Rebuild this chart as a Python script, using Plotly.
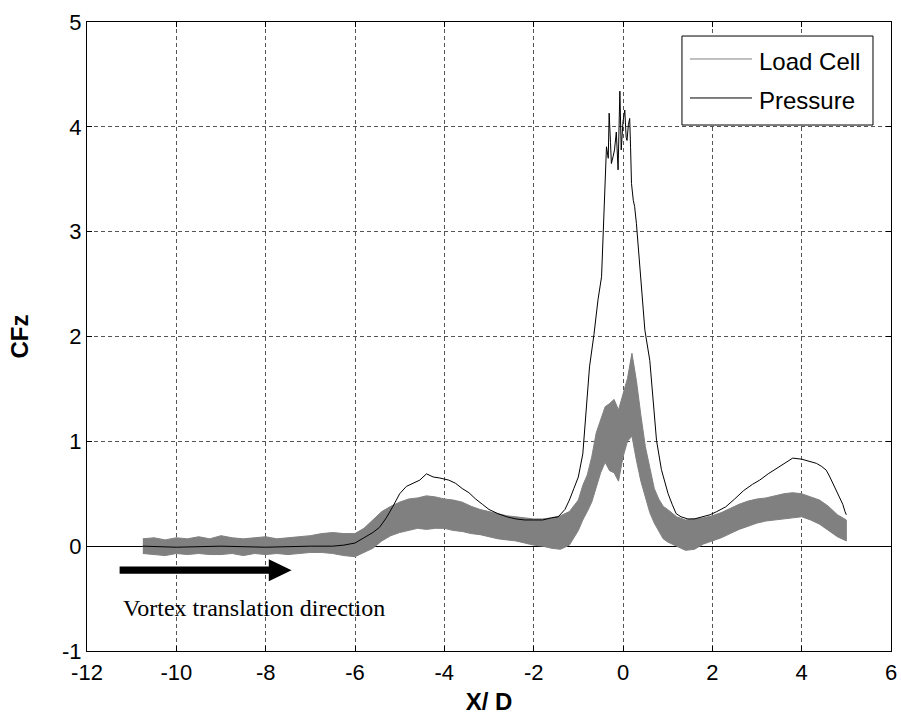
import plotly.graph_objects as go

# ---------------- data ----------------
x_ticks = [-12, -10, -8, -6, -4, -2, 0, 2, 4, 6]
x_ticklabels = ["-12", "-10", "-8", "-6", "-4", "-2", "0", "2", "4", "6"]
y_ticks = [-1, 0, 1, 2, 3, 4, 5]
y_ticklabels = ["-1", "0", "1", "2", "3", "4", "5"]
series_names = ["Load Cell", "Pressure"]

# Load cell: noisy signal, given as upper / lower envelope of the band
lc_x = [-10.75, -10.5, -10.25, -10.0, -9.75, -9.5, -9.25, -9.0, -8.75, -8.5,
        -8.25, -8.0, -7.75, -7.5, -7.25, -7.0, -6.75, -6.5, -6.25, -6.0,
        -5.8, -5.6, -5.4, -5.2, -5.0, -4.8, -4.6, -4.4, -4.2, -4.0,
        -3.8, -3.6, -3.4, -3.2, -3.0, -2.8, -2.6, -2.4, -2.2, -2.0,
        -1.8, -1.6, -1.4, -1.2, -1.0, -0.9, -0.8, -0.7, -0.6, -0.5,
        -0.4, -0.3, -0.2, -0.1, 0.0, 0.1, 0.2, 0.3, 0.4, 0.5,
        0.6, 0.7, 0.8, 0.9, 1.0, 1.2, 1.4, 1.6, 1.8, 2.0,
        2.2, 2.4, 2.6, 2.8, 3.0, 3.2, 3.4, 3.6, 3.8, 4.0,
        4.2, 4.4, 4.6, 4.8, 5.0]
lc_upper = [0.07, 0.08, 0.06, 0.08, 0.07, 0.09, 0.07, 0.10, 0.08, 0.07,
            0.08, 0.09, 0.07, 0.08, 0.09, 0.10, 0.12, 0.13, 0.12, 0.12,
            0.17, 0.25, 0.33, 0.38, 0.42, 0.45, 0.46, 0.48, 0.47, 0.45,
            0.44, 0.42, 0.38, 0.35, 0.33, 0.31, 0.29, 0.28, 0.27, 0.26,
            0.26, 0.27, 0.29, 0.33, 0.44, 0.58, 0.68, 0.85, 1.08, 1.20,
            1.33, 1.36, 1.40, 1.30, 1.45, 1.60, 1.84, 1.58, 1.25, 0.95,
            0.75, 0.55, 0.45, 0.38, 0.35, 0.28, 0.25, 0.26, 0.27, 0.29,
            0.32, 0.36, 0.40, 0.43, 0.45, 0.46, 0.48, 0.50, 0.51, 0.50,
            0.47, 0.44, 0.38, 0.30, 0.25]
lc_lower = [-0.07, -0.08, -0.09, -0.07, -0.08, -0.07, -0.08, -0.08, -0.07, -0.09,
            -0.07, -0.08, -0.07, -0.08, -0.07, -0.06, -0.06, -0.07, -0.09, -0.10,
            -0.06, -0.02, 0.05, 0.10, 0.13, 0.15, 0.17, 0.16, 0.17, 0.17,
            0.15, 0.14, 0.12, 0.11, 0.09, 0.07, 0.06, 0.05, 0.03, 0.01,
            0.00, -0.02, -0.03, 0.01, 0.15, 0.25, 0.33, 0.42, 0.56, 0.70,
            0.80, 0.72, 0.70, 0.62, 0.85, 1.00, 1.05, 0.82, 0.62, 0.48,
            0.32, 0.22, 0.15, 0.07, 0.04, 0.00, -0.04, -0.03, 0.02, 0.05,
            0.08, 0.12, 0.16, 0.19, 0.22, 0.24, 0.25, 0.26, 0.27, 0.28,
            0.25, 0.21, 0.15, 0.09, 0.05]

# Pressure: single line
p_x = [-10.75, -10.0, -9.0, -8.0, -7.0, -6.5, -6.25, -6.0, -5.8, -5.6,
       -5.45, -5.3, -5.15, -5.0, -4.85, -4.7, -4.55, -4.4, -4.25, -4.1,
       -3.9, -3.75, -3.6, -3.45, -3.3, -3.15, -3.0, -2.8, -2.6, -2.4,
       -2.2, -2.0, -1.8, -1.6, -1.45, -1.3, -1.2, -1.1, -1.0, -0.9,
       -0.82, -0.75, -0.65, -0.56, -0.48, -0.45, -0.41, -0.37, -0.33, -0.31,
       -0.28, -0.26, -0.22, -0.19, -0.15, -0.11, -0.07, -0.04, 0.0, 0.04,
       0.07, 0.09, 0.12, 0.15, 0.17, 0.19, 0.23, 0.26, 0.30, 0.36,
       0.42, 0.49, 0.60, 0.67, 0.75, 0.86, 1.01, 1.1, 1.19, 1.3,
       1.45, 1.6, 1.8, 1.95, 2.1, 2.3, 2.5, 2.7, 2.9, 3.06,
       3.25, 3.43, 3.6, 3.8, 4.0, 4.15, 4.33, 4.45, 4.55, 4.62,
       4.70, 4.78, 4.85, 4.92, 4.97, 5.0]
p_y = [0.00, -0.01, 0.00, -0.01, 0.00, 0.00, 0.01, 0.03, 0.08, 0.13,
       0.18, 0.27, 0.38, 0.50, 0.57, 0.60, 0.63, 0.69, 0.66, 0.65,
       0.63, 0.60, 0.55, 0.51, 0.45, 0.40, 0.35, 0.31, 0.28, 0.26,
       0.25, 0.25, 0.25, 0.27, 0.28, 0.35, 0.44, 0.55, 0.66, 0.88,
       1.30, 1.71, 2.02, 2.35, 2.57, 2.95, 3.37, 3.81, 3.70, 4.13,
       3.85, 3.65, 3.72, 3.78, 3.95, 3.59, 4.34, 3.78, 4.05, 4.16,
       3.90, 3.87, 4.02, 4.08, 3.80, 3.46, 3.30, 3.24, 3.08, 2.76,
       2.40, 2.06, 1.77, 1.39, 1.01, 0.73, 0.50, 0.40, 0.31, 0.28,
       0.26, 0.26, 0.28, 0.30, 0.33, 0.375, 0.45, 0.53, 0.59, 0.63,
       0.69, 0.74, 0.79, 0.84, 0.83, 0.81, 0.79, 0.76, 0.725, 0.67,
       0.60, 0.53, 0.47, 0.40, 0.33, 0.30]

# ---------------- figure ----------------
GRAY = "#808080"
FONT = "Liberation Sans, Arial"
fig = go.Figure()

# load-cell band
fig.add_trace(go.Scatter(
    x=lc_x + lc_x[::-1], y=lc_upper + lc_lower[::-1],
    fill="toself", fillcolor=GRAY, mode="lines",
    line=dict(color=GRAY, width=1), name=series_names[0],
    showlegend=False, hoverinfo="skip"))
# pressure line
fig.add_trace(go.Scatter(x=p_x, y=p_y, mode="lines", name=series_names[1],
                         line=dict(color="black", width=1), showlegend=False))

# arrow (annotation graphic)
ay = -0.229
fig.add_shape(type="path",
              path=(f"M -11.27,{ay+0.034} L -7.93,{ay+0.034} L -7.93,{ay+0.105} "
                    f"L -7.42,{ay} L -7.93,{ay-0.105} L -7.93,{ay-0.034} "
                    f"L -11.27,{ay-0.034} Z"),
              xref="x", yref="y", fillcolor="black", line=dict(width=0))

fig.add_annotation(x=-11.23, y=-0.59, xref="x", yref="y",
                   text="Vortex translation direction", showarrow=False,
                   xanchor="left", yanchor="middle",
                   font=dict(family="Liberation Serif", size=24, color="black"))

# legend box drawn manually (MATLAB style with long sample lines)
fig.add_shape(type="rect", xref="paper", yref="paper",
              x0=0.7400, x1=0.9776, y0=0.8362, y1=0.9777,
              fillcolor="white", line=dict(color="black", width=1), layer="above")
leg_rows = [(0.9412, GRAY), (0.8792, "black")]
for (ly, col), nm in zip(leg_rows, series_names):
    fig.add_shape(type="line", xref="paper", yref="paper",
                  x0=0.7500, x1=0.8271, y0=ly, y1=ly,
                  line=dict(color=col, width=1), layer="above")
    fig.add_annotation(x=0.8333, y=ly - 0.004, xref="paper", yref="paper",
                       text=nm, showarrow=False, xanchor="left", yanchor="middle",
                       font=dict(family=FONT, size=24, color="black"))

tickfont = dict(family=FONT, size=22, color="black")
axis_common = dict(showline=True, linecolor="black", linewidth=1, mirror="ticks",
                   ticks="inside", ticklen=5, tickcolor="black",
                   showgrid=True, gridcolor="#555555", gridwidth=1,
                   griddash="4px,3px", tickfont=tickfont)

fig.update_xaxes(range=[-12, 6], tickvals=x_ticks, ticktext=x_ticklabels,
                 zeroline=False, ticklabelstandoff=2,
                 title=dict(text="<b>X/ D</b>", standoff=8,
                            font=dict(family=FONT, size=24, color="black")),
                 **axis_common)
fig.update_yaxes(range=[-1, 5], tickvals=y_ticks, ticktext=y_ticklabels,
                 zeroline=True, zerolinecolor="black", zerolinewidth=1,
                 title=dict(text="<b>CFz</b>", standoff=26,
                            font=dict(family=FONT, size=24, color="black")),
                 **axis_common)

fig.update_layout(
    width=901, height=719,
    margin=dict(l=87, r=10, t=22, b=68, autoexpand=False),
    plot_bgcolor="white", paper_bgcolor="white",
    showlegend=False,
)

fig.write_html("out.html")
